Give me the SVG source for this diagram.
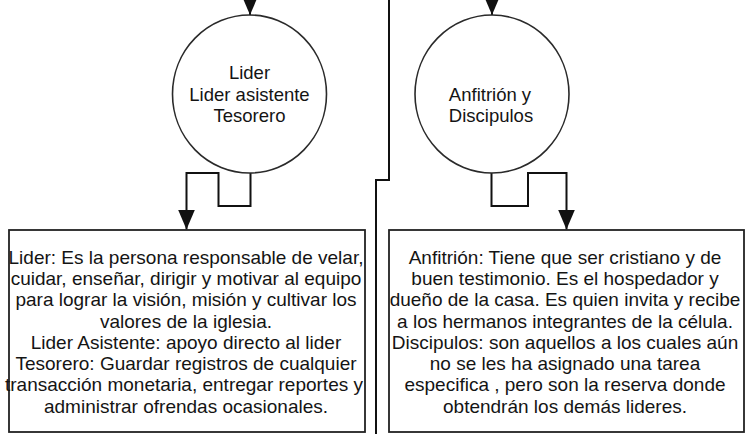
<svg xmlns="http://www.w3.org/2000/svg" width="751" height="434" viewBox="0 0 751 434">
<defs>
<style>
.node{fill:#fff;stroke:#2a2a2a;stroke-width:1.6}
.box{fill:#fff;stroke:#222;stroke-width:1.8}
.conn{fill:none;stroke:#111;stroke-width:2}
.t{font-family:"Liberation Sans",Arial,sans-serif;fill:#141414;text-anchor:middle}
.ct{font-size:18.5px}
.bt{font-size:19px}
</style>
<marker id="arr" viewBox="0 0 20 17" markerWidth="20" markerHeight="17" refX="20" refY="8.5" orient="auto" markerUnits="userSpaceOnUse">
<path d="M0,0 L20,8.5 L0,17 z" fill="#111"/>
</marker>
</defs>
<rect width="751" height="434" fill="#fff"/>
<g id="connectors">
<path class="conn" d="M250,-10 V15" marker-end="url(#arr)"/>
<path class="conn" d="M492,-10 V15" marker-end="url(#arr)"/>
<path class="conn" d="M250.5,173 V206 H218.5 V173 H186.5 V229.5" marker-end="url(#arr)"/>
<path class="conn" d="M491.5,173 V206 H528 V173 H566.5 V229.5" marker-end="url(#arr)"/>
<path class="conn" d="M389,0 V180 H376 V434"/>
</g>
<g id="node-lider">
<ellipse class="node" cx="249.5" cy="94" rx="77" ry="79"/>
<text class="t ct" x="249.5" y="78.5">Lider</text>
<text class="t ct" x="249.5" y="100.5">Lider asistente</text>
<text class="t ct" x="249.5" y="122">Tesorero</text>
</g>
<g id="node-anfitrion">
<ellipse class="node" cx="492" cy="94" rx="77" ry="79"/>
<text class="t ct" x="490" y="100.5">Anfitrión y</text>
<text class="t ct" x="491" y="122">Discipulos</text>
</g>
<g id="box-lider">
<rect class="box" x="9" y="230" width="356" height="202"/>
<text class="t bt" x="186" y="263.5">Lider: Es la persona responsable de velar,</text>
<text class="t bt" x="186" y="285">cuidar, enseñar, dirigir y motivar al equipo</text>
<text class="t bt" x="186" y="306.2">para lograr la visión, misión y cultivar los</text>
<text class="t bt" x="186" y="327.5">valores de la iglesia.</text>
<text class="t bt" x="186" y="348.8">Lider Asistente: apoyo directo al lider</text>
<text class="t bt" x="186" y="370">Tesorero: Guardar registros de cualquier</text>
<text class="t bt" x="184" y="391.3">transacción monetaria, entregar reportes y</text>
<text class="t bt" x="186" y="412.5">administrar ofrendas ocasionales.</text>
</g>
<g id="box-anfitrion">
<rect class="box" x="389" y="230" width="355" height="202"/>
<text class="t bt" x="565" y="263.5">Anfitrión: Tiene que ser cristiano y de</text>
<text class="t bt" x="565" y="285">buen testimonio. Es el hospedador y</text>
<text class="t bt" x="565" y="306.2">dueño de la casa. Es quien invita y recibe</text>
<text class="t bt" x="565" y="327.5">a los hermanos integrantes de la célula.</text>
<text class="t bt" x="565" y="348.8">Discipulos: son aquellos a los cuales aún</text>
<text class="t bt" x="565" y="370">no se les ha asignado una tarea</text>
<text class="t bt" x="565" y="391.3">especifica , pero son la reserva donde</text>
<text class="t bt" x="565" y="412.5">obtendrán los demás lideres.</text>
</g>
</svg>
